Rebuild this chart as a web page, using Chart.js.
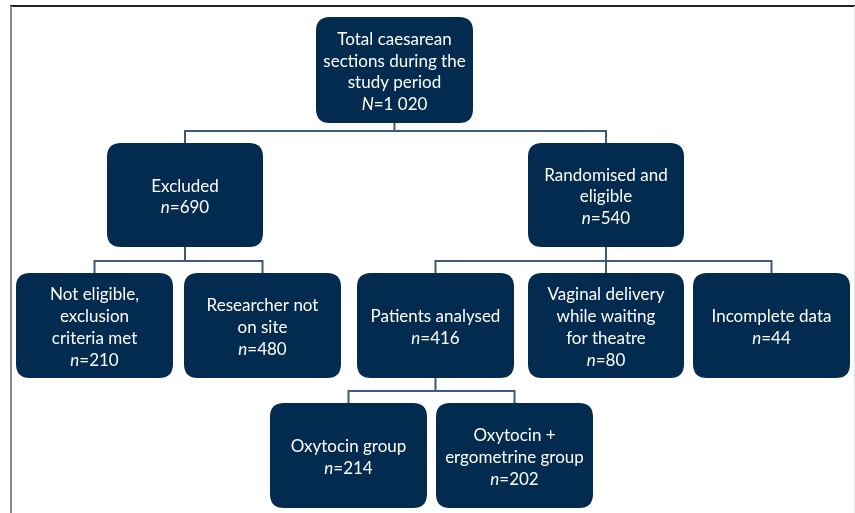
<!DOCTYPE html>
<html>
<head>
<meta charset="utf-8">
<script src="https://cdn.jsdelivr.net/npm/chart.js@4"></script>
<style>
  html, body { margin: 0; padding: 0; background: #fff; }
  #wrap { position: relative; width: 855px; height: 513px; }
</style>
</head>
<body>
<div id="wrap"><canvas id="flowChart"></canvas></div>
<script>
// Flow data: box texts, counts and which box each one comes from
const nodeLabels = [
    ['Total caesarean', 'sections during the', 'study period'],
    ['Excluded'],
    ['Randomised and', 'eligible'],
    ['Not eligible,', 'exclusion', 'criteria met'],
    ['Researcher not', 'on site'],
    ['Patients analysed'],
    ['Vaginal delivery', 'while waiting', 'for theatre'],
    ['Incomplete data'],
    ['Oxytocin group'],
    ['Oxytocin +', 'ergometrine group']
];
const nodeCounts = [1020, 690, 540, 210, 480, 416, 80, 44, 214, 202];
const countSymbols = ['N', 'n', 'n', 'n', 'n', 'n', 'n', 'n', 'n', 'n'];
const nodeParents = [null, 0, 0, 1, 1, 2, 2, 2, 5, 5];

// Layout only: box corners [left, top, right, bottom] in chart units
const nodeBoxes = [
    [316, 17, 473, 123],
    [107, 143, 263, 247],
    [528, 143, 684, 247],
    [16, 273, 173, 378],
    [184, 273, 341, 378],
    [357, 273, 514, 378],
    [528, 273, 684, 378],
    [693, 273, 850, 378],
    [270, 403, 427, 508],
    [436, 403, 593, 508]
];

const boxColor = '#022b4f';
const lineColor = '#3c5a7a';
const fontFamily = 'Lato, "Open Sans", sans-serif';
const fontSize = 17;

function formatCount(v) {
    // space as thousands separator, as in the source ("1 020")
    return String(v).replace(/\B(?=(\d{3})+(?!\d))/g, ' ');
}

function roundRect(ctx, x0, y0, x1, y1, r) {
    ctx.beginPath();
    ctx.moveTo(x0 + r, y0);
    ctx.lineTo(x1 - r, y0);
    ctx.quadraticCurveTo(x1, y0, x1, y0 + r);
    ctx.lineTo(x1, y1 - r);
    ctx.quadraticCurveTo(x1, y1, x1 - r, y1);
    ctx.lineTo(x0 + r, y1);
    ctx.quadraticCurveTo(x0, y1, x0, y1 - r);
    ctx.lineTo(x0, y0 + r);
    ctx.quadraticCurveTo(x0, y0, x0 + r, y0);
    ctx.closePath();
}

const flowPlugin = {
    id: 'flowBoxes',
    afterDatasetsDraw(chart) {
        const ctx = chart.ctx;
        const xs = chart.scales.x;
        const ys = chart.scales.y;
        const px = v => xs.getPixelForValue(v);
        const py = v => ys.getPixelForValue(v);

        // outer frame
        ctx.save();
        ctx.strokeStyle = '#222';
        ctx.lineWidth = 2;
        ctx.beginPath();
        ctx.moveTo(px(10), py(6));
        ctx.lineTo(px(855), py(6));
        ctx.stroke();
        ctx.strokeStyle = '#888';
        ctx.beginPath();
        ctx.moveTo(px(11), py(6));
        ctx.lineTo(px(11), py(513));
        ctx.stroke();
        ctx.strokeStyle = '#e6e6e6';
        ctx.lineWidth = 1;
        ctx.beginPath();
        ctx.moveTo(px(854.5), py(6));
        ctx.lineTo(px(854.5), py(513));
        ctx.stroke();
        ctx.restore();

        // connectors
        ctx.save();
        ctx.strokeStyle = lineColor;
        ctx.lineWidth = 2;
        nodeBoxes.forEach((b, i) => {
            const kids = nodeParents.map((p, k) => p === i ? k : -1).filter(k => k >= 0);
            if (!kids.length) return;
            const cx = (b[0] + b[2]) / 2;
            const childTop = nodeBoxes[kids[0]][1];
            const jy = childTop - 12;
            const kidX = kids.map(k => (nodeBoxes[k][0] + nodeBoxes[k][2]) / 2);
            ctx.beginPath();
            ctx.moveTo(px(cx), py(b[3]));
            ctx.lineTo(px(cx), py(jy));
            ctx.moveTo(px(Math.min(...kidX, cx)) - 1, py(jy));
            ctx.lineTo(px(Math.max(...kidX, cx)) + 1, py(jy));
            kids.forEach((k, j) => {
                ctx.moveTo(px(kidX[j]), py(jy));
                ctx.lineTo(px(kidX[j]), py(nodeBoxes[k][1]));
            });
            ctx.stroke();
        });
        ctx.restore();

        // boxes and texts
        nodeBoxes.forEach((b, i) => {
            ctx.save();
            ctx.fillStyle = boxColor;
            roundRect(ctx, px(b[0]), py(b[1]), px(b[2]), py(b[3]), 14);
            ctx.fill();

            const lines = nodeLabels[i].slice();
            const lineH = 21.7;
            const n = lines.length + 1;
            const cx = px((b[0] + b[2]) / 2);
            const cy = py((b[1] + b[3]) / 2) + 2;
            let y = cy - (n - 1) * lineH / 2;
            ctx.fillStyle = '#fff';
            ctx.textBaseline = 'middle';
            ctx.textAlign = 'center';
            ctx.font = fontSize + 'px ' + fontFamily;
            lines.forEach(t => {
                ctx.fillText(t, cx, y);
                y += lineH;
            });
            // count line: italic symbol then "=value"
            const sym = countSymbols[i];
            const rest = '=' + formatCount(nodeCounts[i]);
            ctx.font = 'italic ' + fontSize + 'px ' + fontFamily;
            const w1 = ctx.measureText(sym).width;
            ctx.font = fontSize + 'px ' + fontFamily;
            const w2 = ctx.measureText(rest).width;
            const x0 = cx - (w1 + w2) / 2;
            ctx.textAlign = 'left';
            ctx.font = 'italic ' + fontSize + 'px ' + fontFamily;
            ctx.fillText(sym, x0, y);
            ctx.font = fontSize + 'px ' + fontFamily;
            ctx.fillText(rest, x0 + w1, y);
            ctx.restore();
        });
    }
};

document.addEventListener('DOMContentLoaded', function() {
    const ctx = document.getElementById('flowChart').getContext('2d');
    new Chart(ctx, {
        type: 'scatter',
        data: {
            datasets: [{
                label: 'nodes',
                data: nodeBoxes.map((b, i) => ({ x: (b[0] + b[2]) / 2, y: (b[1] + b[3]) / 2, v: nodeCounts[i] })),
                pointRadius: 0,
                pointHoverRadius: 0
            }]
        },
        options: {
            responsive: true,
            maintainAspectRatio: false,
            animation: false,
            layout: { padding: 0 },
            plugins: {
                legend: { display: false },
                tooltip: { enabled: false }
            },
            scales: {
                x: { type: 'linear', min: 0, max: 855, display: false },
                y: { type: 'linear', min: 0, max: 513, reverse: true, display: false }
            }
        },
        plugins: [flowPlugin]
    });
});
</script>
</body>
</html>
